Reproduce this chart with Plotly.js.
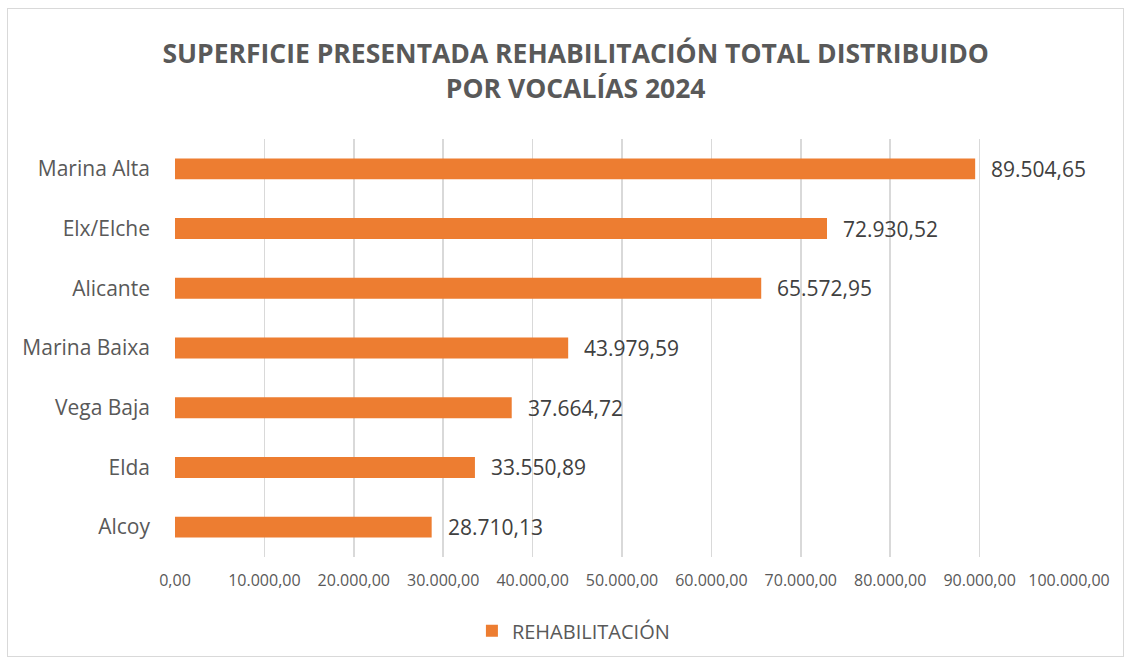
<!DOCTYPE html>
<html>
<head>
<meta charset="utf-8">
<script src="https://cdn.plot.ly/plotly-3.0.1.min.js"></script>
<style>
html,body{margin:0;padding:0;background:#fff;}
#wrap{position:relative;width:1131px;height:664px;}
#chart{position:absolute;left:0;top:0;width:1131px;height:664px;}
#frame{position:absolute;left:7px;top:8px;width:1115px;height:647px;border:1px solid #d9d9d9;pointer-events:none;}
</style>
</head>
<body>
<div id="wrap"><div id="chart"></div><div id="frame"></div></div>
<script>
const categories = ["Marina Alta", "Elx/Elche", "Alicante", "Marina Baixa", "Vega Baja", "Elda", "Alcoy"];
const values = [89504.65, 72930.52, 65572.95, 43979.59, 37664.72, 33550.89, 28710.13];
const seriesName = "REHABILITACIÓN";
const tickValues = [0, 10000, 20000, 30000, 40000, 50000, 60000, 70000, 80000, 90000, 100000];
const titleText = "SUPERFICIE PRESENTADA REHABILITACIÓN TOTAL DISTRIBUIDO<br>POR VOCALÍAS 2024";

const font = "'Open Sans', 'Noto Sans', sans-serif";

const trace = {
  type: "bar",
  orientation: "h",
  y: categories,
  x: values,
  name: seriesName,
  marker: {color: "#ED7D31"},
  width: 0.35,
  showlegend: true,
  hoverinfo: "skip"
};

function fmt(v){
  const parts = v.toFixed(2).split(".");
  parts[0] = parts[0].replace(/\B(?=(\d{3})+(?!\d))/g, ".");
  return parts[0] + "," + parts[1];
}

const annotations = values.map((v, i) => ({
  x: v, y: categories[i], xref: "x", yref: "y",
  text: fmt(v),
  showarrow: false, xanchor: "left", yanchor: "middle", xshift: 14,
  font: {family: font, size: 21, color: "#404040"}
}));

const layout = {
  width: 1131, height: 664,
  margin: {l: 175, r: 62, t: 139, b: 107},
  paper_bgcolor: "#ffffff", plot_bgcolor: "#ffffff",
  separators: ",.",
  title: {
    text: titleText,
    font: {family: font, size: 26.5, color: "#595959", weight: "bold"},
    x: 0.509, xanchor: "center", xref: "container",
    y: 0.905, yanchor: "middle", yref: "container"
  },
  xaxis: {
    range: [0, 100000],
    tickvals: tickValues,
    tickformat: ",.2f",
    showgrid: true, gridcolor: "#d9d9d9", gridwidth: 1.5,
    zeroline: false, showline: false, ticks: "",
    tickfont: {family: font, size: 16, color: "#595959"},
    ticklabelstandoff: 12,
    fixedrange: true
  },
  yaxis: {
    autorange: "reversed",
    showgrid: false, zeroline: false, showline: false, ticks: "",
    tickfont: {family: font, size: 21, color: "#595959"},
    ticklabelstandoff: 24,
    fixedrange: true
  },
  legend: {
    orientation: "h",
    xref: "container", yref: "container",
    x: 0.507, xanchor: "center", y: 0.05, yanchor: "middle",
    font: {family: font, size: 20, color: "#595959"},
    itemwidth: 30
  },
  annotations: annotations,
  bargap: 0.65
};

Plotly.newPlot("chart", [trace], layout, {displayModeBar: false, staticPlot: true});
</script>
</body>
</html>
